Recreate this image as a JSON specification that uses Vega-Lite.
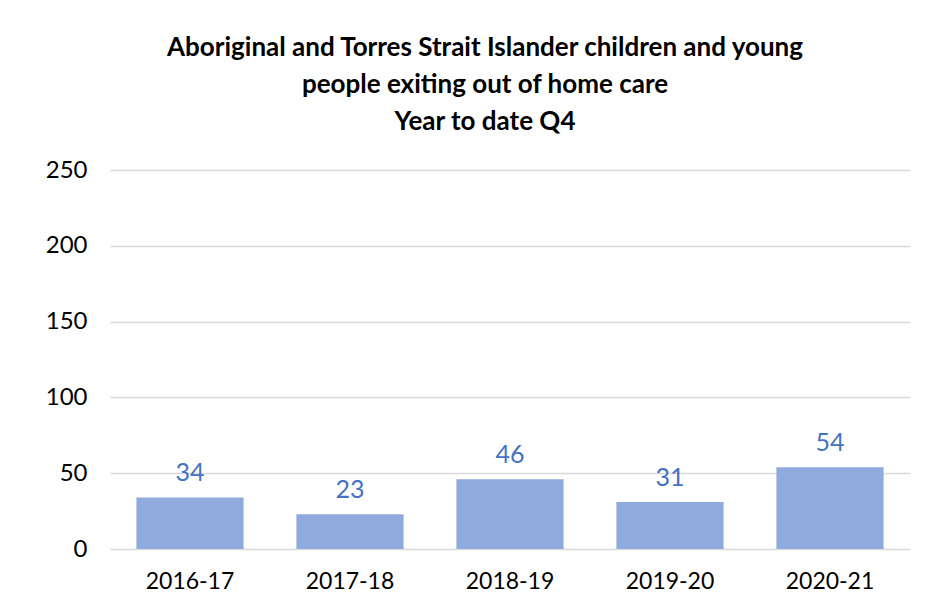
{
  "$schema": "https://vega.github.io/schema/vega-lite/v6.json",
  "autosize": {"type": "none"},
  "padding": {"left": 110, "top": 170, "right": 15, "bottom": 61},
  "width": 800,
  "height": 379,
  "background": "white",
  "title": {
    "text": ["Aboriginal and Torres Strait Islander children and young", "people exiting out of home care", "Year to date Q4"],
    "font": "Lato",
    "fontSize": 26,
    "fontWeight": "bold",
    "color": "#000000",
    "lineHeight": 37,
    "anchor": "middle",
    "dx": -25,
    "offset": 23
  },
  "data": {
    "values": [
      {"year": "2016-17", "count": 34},
      {"year": "2017-18", "count": 23},
      {"year": "2018-19", "count": 46},
      {"year": "2019-20", "count": 31},
      {"year": "2020-21", "count": 54}
    ]
  },
  "encoding": {
    "x": {
      "field": "year",
      "type": "nominal",
      "sort": null,
      "scale": {"paddingInner": 0.33, "paddingOuter": 0.165},
      "axis": {
        "title": null,
        "labelAngle": 0,
        "domain": false,
        "ticks": false,
        "labelFont": "Lato",
        "labelFontSize": 23,
        "labelColor": "#000000",
        "labelPadding": 21
      }
    },
    "y": {
      "field": "count",
      "type": "quantitative",
      "scale": {"domain": [0, 250], "nice": false},
      "axis": {
        "title": null,
        "values": [0, 50, 100, 150, 200, 250],
        "domain": false,
        "ticks": false,
        "grid": true,
        "gridColor": "#D9D9D9",
        "gridWidth": 1.5,
        "labelFont": "Lato",
        "labelFontSize": 24,
        "labelColor": "#000000",
        "labelPadding": 23
      }
    }
  },
  "layer": [
    {"mark": {"type": "bar", "color": "#8FAADC"}},
    {
      "mark": {"type": "text", "color": "#4472C4", "font": "Lato", "fontSize": 25, "baseline": "bottom", "dy": -11},
      "encoding": {"text": {"field": "count", "type": "quantitative"}}
    }
  ],
  "config": {"view": {"stroke": null}}
}
